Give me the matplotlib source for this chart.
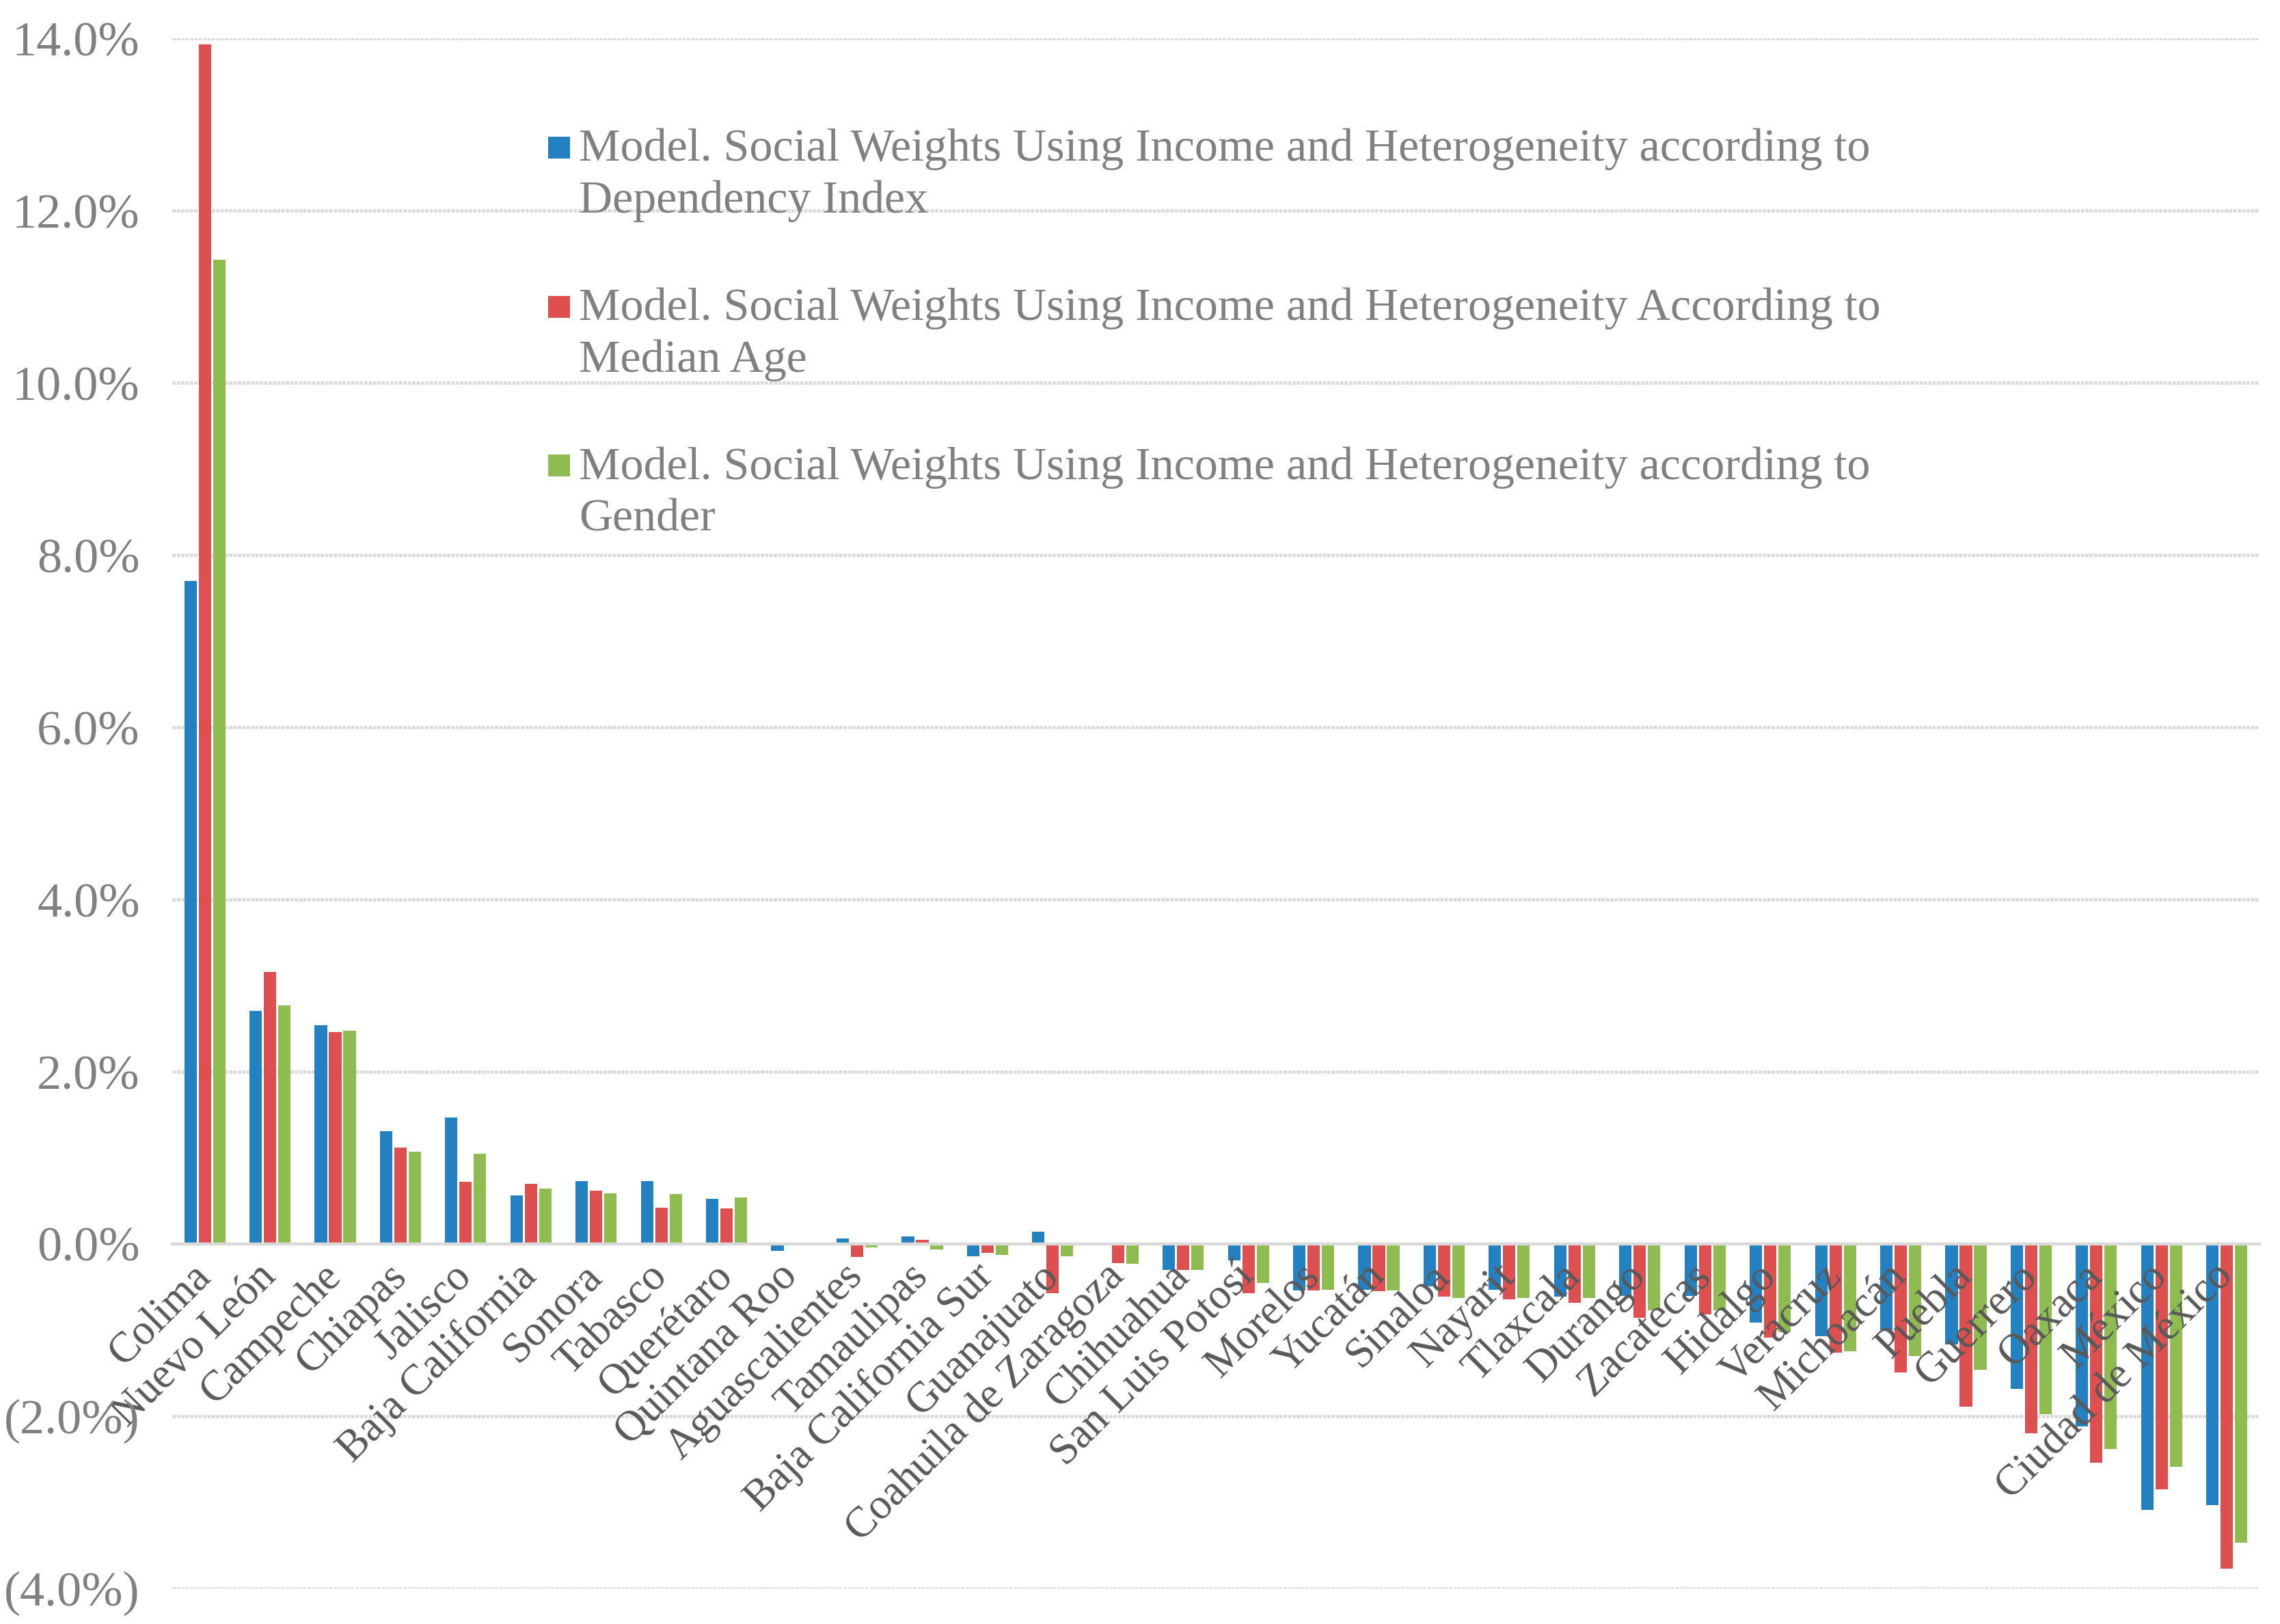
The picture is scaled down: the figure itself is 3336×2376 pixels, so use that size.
import matplotlib
matplotlib.use("Agg")
import matplotlib.pyplot as plt
import numpy as np
from matplotlib.patches import Rectangle
from matplotlib.container import BarContainer
from matplotlib.legend_handler import HandlerPatch
from matplotlib.ticker import FuncFormatter, MultipleLocator

plt.rcParams["font.family"] = ["Liberation Serif", "DejaVu Serif"]

# === data (percent) ===
states = ["Colima", "Nuevo León", "Campeche", "Chiapas", "Jalisco", "Baja California",
          "Sonora", "Tabasco", "Querétaro", "Quintana Roo", "Aguascalientes", "Tamaulipas",
          "Baja California Sur", "Guanajuato", "Coahuila de Zaragoza", "Chihuahua",
          "San Luis Potosí", "Morelos", "Yucatán", "Sinaloa", "Nayarit", "Tlaxcala",
          "Durango", "Zacatecas", "Hidalgo", "Veracruz", "Michoacán", "Puebla",
          "Guerrero", "Oaxaca", "México", "Ciudad de México"]

dependency = [7.70, 2.71, 2.54, 1.31, 1.47, 0.56, 0.73, 0.73, 0.52, -0.08, 0.06, 0.09,
              -0.14, 0.14, 0.00, -0.30, -0.19, -0.54, -0.53, -0.49, -0.53, -0.61,
              -0.60, -0.60, -0.91, -1.07, -1.00, -1.17, -1.68, -2.12, -3.09, -3.03]
median_age = [13.93, 3.16, 2.46, 1.12, 0.72, 0.70, 0.62, 0.42, 0.41, 0.00, -0.15, 0.05,
              -0.10, -0.57, -0.22, -0.30, -0.57, -0.54, -0.55, -0.61, -0.64, -0.68,
              -0.86, -0.82, -1.09, -1.26, -1.49, -1.89, -2.20, -2.54, -2.85, -3.77]
gender = [11.43, 2.77, 2.48, 1.07, 1.05, 0.64, 0.59, 0.58, 0.54, 0.00, -0.04, -0.06,
          -0.13, -0.14, -0.23, -0.30, -0.45, -0.53, -0.54, -0.63, -0.63, -0.63,
          -0.77, -0.77, -1.02, -1.25, -1.30, -1.46, -1.98, -2.38, -2.59, -3.47]

labels = ["Model. Social Weights Using Income and Heterogeneity according to\nDependency Index",
          "Model. Social Weights Using Income and Heterogeneity According to\nMedian Age",
          "Model. Social Weights Using Income and Heterogeneity according to\nGender"]
colors = ["#2481C1", "#DE504F", "#8FBC50"]

# === figure ===
fig = plt.figure(figsize=(16.68, 11.88), dpi=200)
ax = fig.add_axes([0.0755, 0.0219, 0.9155, 0.9545])
ax.set_axisbelow(False)

x = np.arange(len(states))
w = 0.19
step = 0.22
for i, (vals, c, lab) in enumerate(zip([dependency, median_age, gender], colors, labels)):
    ax.bar(x + (i - 1) * step, vals, width=w, color=c, label=lab, zorder=2)

ax.set_xlim(-0.5, len(states) - 0.5)
ax.set_ylim(-4, 14)
ax.yaxis.set_major_locator(MultipleLocator(2))
ax.yaxis.set_major_formatter(FuncFormatter(
    lambda v, p: f"{v:.1f}%" if v >= -1e-9 else f"({-v:.1f}%)"))

# gridlines (zero is the axis line)
for yv in np.arange(-4, 15, 2):
    if yv != 0:
        ax.axhline(yv, color="#d9d9d9", lw=1.7, ls=(0, (1, 0.35)), zorder=1)

for s in ["top", "right", "left"]:
    ax.spines[s].set_visible(False)
ax.spines["bottom"].set_position(("data", 0))
ax.spines["bottom"].set_color("#d9d9d9")
ax.spines["bottom"].set_linewidth(1.6)
ax.spines["bottom"].set_zorder(4)

ax.set_xticks(x)
ax.set_xticklabels(states, rotation=45, ha="right", va="center", rotation_mode="anchor",
                   fontsize=22.5, color="#595959")
ax.tick_params(axis="x", length=0, pad=14)
ax.tick_params(axis="y", length=0, pad=17, labelsize=26, labelcolor="#808080")


class TopHandler(HandlerPatch):
    # key square next to the first line of a two-line label
    def create_artists(self, legend, orig_handle, xdescent, ydescent, width, height,
                       fontsize, trans):
        s = 0.47 * fontsize
        fc = orig_handle.patches[0].get_facecolor()
        p = Rectangle((-xdescent + width - s, -ydescent + 0.71 * fontsize), s, s,
                      facecolor=fc, edgecolor="none", transform=trans)
        return [p]


handles, labs = ax.get_legend_handles_labels()
leg = ax.legend(handles, labs, loc="upper left", bbox_to_anchor=(0.160, 0.969),
                frameon=False, fontsize=24.5, labelcolor="#808080",
                handler_map={BarContainer: TopHandler()},
                handlelength=0.47, handletextpad=0.2, labelspacing=1.4)
for t in leg.get_texts():
    t.set_linespacing(1.31)

fig.savefig("out.png", dpi=200, facecolor="white")
